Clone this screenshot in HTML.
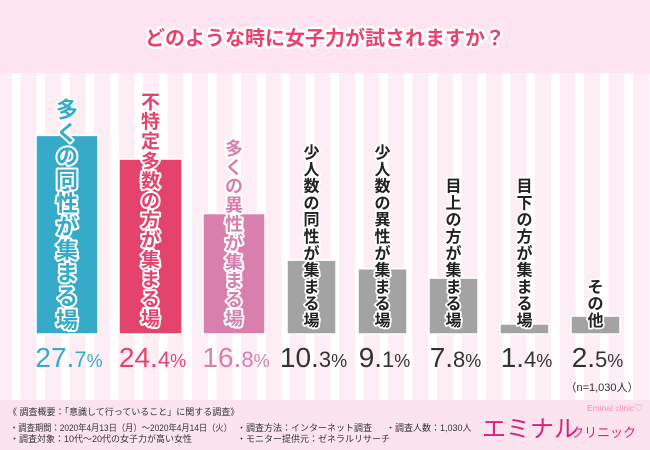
<!DOCTYPE html>
<html><head><meta charset="utf-8">
<style>
html,body{margin:0;padding:0;background:#fff;}
svg{display:block;font-family:"Liberation Sans","Noto Sans CJK JP",sans-serif;}
.ol{paint-order:stroke;stroke:#fff;stroke-linejoin:round;}
</style></head>
<body>
<svg id="chart" width="650" height="450" viewBox="0 0 650 450">
<defs>
<pattern id="stripes" width="24.5" height="10" patternUnits="userSpaceOnUse">
<rect width="24.5" height="10" fill="#fdeef5"/>
<rect x="12" width="8.5" height="10" fill="#ffffff"/>
</pattern>
</defs>
<rect x="0" y="73" width="650" height="327" fill="url(#stripes)"/>
<rect x="0" y="0" width="650" height="73" fill="#fde4f0"/>
<text x="325" y="45" text-anchor="middle" font-size="20" font-weight="bold" fill="#e8436e" class="ol" stroke-width="5">どのような時に女子力が試されますか？</text>
<g id="bars"></g>
<g id="labels"></g>
<g id="pcts"></g>
<text x="602" y="391" text-anchor="middle" font-size="11" fill="#333">（n=1,030人）</text>
<rect x="0" y="400" width="650" height="50" fill="#fce4ef"/>
<g font-size="9" fill="#333">
<text x="8" y="415">《 調査概要：「意識して行っていること」に関する調査》</text>
<text x="10" y="431" textLength="222" lengthAdjust="spacingAndGlyphs">・調査期間：2020年4月13日（月）～2020年4月14日（火）</text>
<text x="10" y="442">・調査対象：10代～20代の女子力が高い女性</text>
<text x="237" y="431">・調査方法：インターネット調査</text>
<text x="237" y="442">・モニター提供元：ゼネラルリサーチ</text>
<text x="386" y="431">・調査人数：1,030人</text>
</g>
<g>
<text x="587" y="411" font-size="8.5" fill="#ef8fbd">Eminal clinic♡</text>
<text x="482" y="437" font-size="24" fill="#d9217a">エミナル</text>
<text x="571" y="437" font-size="13" fill="#d9217a">クリニック</text>
</g>
</svg>
<script>
const categories = ["多くの同性が集まる場","不特定多数の方が集まる場","多くの異性が集まる場","少人数の同性が集まる場","少人数の異性が集まる場","目上の方が集まる場","目下の方が集まる場","その他"];
const values = [27.7, 24.4, 16.8, 10.3, 9.1, 7.8, 1.4, 2.5];
const barColors = ["#35abc9","#e4446c","#d97fae","#a3a3a3","#a3a3a3","#a3a3a3","#a3a3a3","#a3a3a3"];
const labelColors = ["#35abc9","#e4446c","#d97fae","#222","#222","#222","#222","#222"];
const pctColors = ["#35abc9","#e4446c","#d97fae","#333","#333","#333","#333","#333"];

const NS = "http://www.w3.org/2000/svg";
const baseY = 334, pxPer = 7.17;
const barLeft = [36,119,203,287,358,429,500,571];
const barW = [62,63,62,49,49,49,49,49];
function yScale(v){ return baseY - v*pxPer; }
function xCenter(i){ return barLeft[i] + barW[i]/2; }

const gb = document.getElementById('bars');
const gl = document.getElementById('labels');
const gp = document.getElementById('pcts');

values.forEach((v,i)=>{
  const r = document.createElementNS(NS,'rect');
  
  
  r.setAttribute('x',barLeft[i]); r.setAttribute('width',barW[i]);
  r.setAttribute('y',yScale(v)); r.setAttribute('height',baseY-yScale(v));
  r.setAttribute('fill',barColors[i]);
  r.setAttribute('stroke','#fff'); r.setAttribute('stroke-width','1.5');
  gb.appendChild(r);

  const chars = Array.from(categories[i]);
  const fs = i===0?22:(i===1?19:(i===2?18:16));
  const step = i===0?23.4:(i===1?19.7:(i===2?18.9:16.8));
  const lastBase = i===0?328:(i<3?325:326);
  const t = document.createElementNS(NS,'text');
  
  
  t.setAttribute('class','ol');
  t.setAttribute('stroke-width', i<3?4:3.5);
  t.setAttribute('font-size',fs);
  t.setAttribute('font-weight','bold');
  t.setAttribute('fill',labelColors[i]);
  t.setAttribute('text-anchor','middle');
  chars.forEach((c,k)=>{
    const ts = document.createElementNS(NS,'tspan');
    ts.setAttribute('x',xCenter(i));
    ts.setAttribute('y',lastBase-(chars.length-1-k)*step);
    ts.textContent = c;
    t.appendChild(ts);
  });
  gl.appendChild(t);

  const s = v.toFixed(1).split('.');
  const p = document.createElementNS(NS,'text');
  
  
  p.setAttribute('x',xCenter(i)+2); p.setAttribute('y',367);
  p.setAttribute('text-anchor','middle');
  p.setAttribute('fill',pctColors[i]);
  p.setAttribute('font-size','28');
  const a = document.createElementNS(NS,'tspan'); a.textContent = s[0]+'.';
  const b = document.createElementNS(NS,'tspan'); b.setAttribute('font-size','22'); b.textContent = s[1];
  const c = document.createElementNS(NS,'tspan'); c.setAttribute('font-size','18'); c.textContent = '%';
  p.appendChild(a); p.appendChild(b); p.appendChild(c);
  gp.appendChild(p);
});
</script>
</body></html>
